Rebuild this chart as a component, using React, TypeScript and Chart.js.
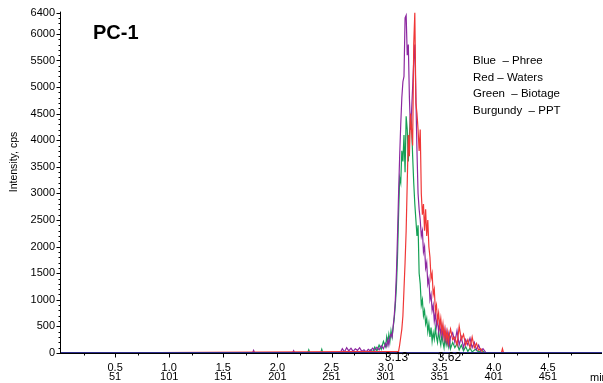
import React, { useEffect, useRef } from 'react';
import { Chart, registerables } from 'chart.js';

Chart.register(...registerables);

const FONT = '"Liberation Sans", Arial, Helvetica, sans-serif';

const chartTitle = 'PC-1';
const yAxisTitle = 'Intensity, cps';
const xUnit = 'min';
const legendLines = ['Blue  \u2013 Phree', 'Red \u2013 Waters', 'Green  \u2013 Biotage', 'Burgundy  \u2013 PPT'];
const peakLabels = ['3.13', '3.62'];
const peakLabelTimes = [3.1, 3.59];

const xTickValues = [0.5, 1.0, 1.5, 2.0, 2.5, 3.0, 3.5, 4.0, 4.5];
const xTickTimes = ['0.5', '1.0', '1.5', '2.0', '2.5', '3.0', '3.5', '4.0', '4.5'];
const xTickScans = ['51', '101', '151', '201', '251', '301', '351', '401', '451'];
const yTickValues = [0, 500, 1000, 1500, 2000, 2500, 3000, 3500, 4000, 4500, 5000, 5500, 6000, 6400];

// Blue - Phree
const blueTimes = [0, 5.0];
const blueValues = [0, 0];

// Red - Waters
const redTimes = [
  0, 3.12,
  3.13, 3.14, 3.15, 3.16, 3.17, 3.18, 3.19,
  3.20, 3.21, 3.22, 3.23, 3.24, 3.25, 3.26, 3.27, 3.28, 3.29,
  3.30, 3.31, 3.32, 3.33, 3.34, 3.35, 3.36, 3.37, 3.38, 3.39,
  3.40, 3.41, 3.42, 3.43, 3.44, 3.45, 3.46, 3.47, 3.48, 3.49,
  3.50, 3.51, 3.52, 3.53, 3.54, 3.55, 3.56, 3.57, 3.58, 3.59,
  3.60,
  3.62, 3.64, 3.66, 3.68, 3.70, 3.72, 3.74, 3.76, 3.78, 3.80, 3.82, 3.84, 3.86, 3.88, 3.90,
  4.07, 4.08, 4.09, 5.0,
];
const redValues = [
  0, 30,
  150, 300, 450, 700, 1200, 1700, 2300,
  3200, 4100, 3700, 4500, 4200, 3900, 5800, 6400, 4700, 4500,
  4200, 3800, 4200, 3000, 2600, 2800, 2300, 2700, 2200, 2500,
  2000, 1800, 1400, 1500, 1100, 1200, 800, 900, 600, 750,
  500, 650, 400, 550, 300, 450, 250, 400, 200, 350,
  450,
  250, 300, 150, 500, 250, 350, 150, 250, 100, 300, 100, 180, 50, 80, 0,
  0, 80, 0, 0,
];

// Green - Biotage
const greenTimes = [
  0, 2.28, 2.29, 2.30, 2.40, 2.41, 2.42,
  2.84, 2.86, 2.88, 2.90, 2.92, 2.94, 2.96, 2.98,
  3.00, 3.01, 3.02, 3.03, 3.04, 3.05, 3.06, 3.07, 3.08, 3.09,
  3.10, 3.11, 3.12, 3.13, 3.14, 3.15, 3.16, 3.17, 3.18, 3.19,
  3.20, 3.21, 3.22, 3.23, 3.24, 3.25, 3.26, 3.27, 3.28, 3.29,
  3.30, 3.31, 3.32, 3.33, 3.34, 3.35, 3.36, 3.37, 3.38, 3.39,
  3.40, 3.41, 3.42, 3.43, 3.44, 3.45, 3.46, 3.47, 3.48, 3.49,
  3.50, 3.51, 3.52, 3.53, 3.54, 3.55, 3.56, 3.57, 3.58, 3.59,
  3.60,
  3.62, 3.64, 3.66, 3.68, 3.70, 3.72, 3.74, 3.76, 3.78, 3.80,
  3.83, 3.86, 3.89, 3.92, 5.0,
];
const greenValues = [
  0, 0, 60, 0, 0, 70, 0,
  0, 60, 20, 110, 40, 150, 70, 220,
  120, 300, 180, 350, 220, 420, 300, 480, 650, 900,
  1250, 1800, 2600, 3300, 3200, 3800, 3600, 4100, 3400, 4450,
  4200, 3600, 4100, 4450, 4300, 3700, 3200, 2800, 2500, 2200,
  2400, 1500, 1300, 900, 1000, 700, 800, 550, 650, 400,
  550, 300, 480, 220, 380, 260, 470, 300, 200, 420,
  250, 150, 350, 200, 100, 300, 150, 250, 120, 300,
  80,
  200, 100, 180, 60, 150, 40, 120, 30, 90, 20,
  70, 20, 50, 0, 0,
];

// Burgundy - PPT
const purpleTimes = [
  0, 1.77, 1.78, 1.79, 2.14, 2.15, 2.16, 2.58,
  2.60, 2.62, 2.64, 2.66, 2.68, 2.70, 2.72, 2.74, 2.76, 2.78,
  2.80, 2.82, 2.84, 2.86, 2.88, 2.90, 2.92, 2.94, 2.96, 2.98,
  3.00, 3.01, 3.02, 3.03, 3.04, 3.05, 3.06, 3.07, 3.08, 3.09,
  3.10, 3.11, 3.12, 3.13, 3.14, 3.15, 3.16, 3.17, 3.18, 3.19,
  3.20, 3.21, 3.22, 3.23, 3.24, 3.25, 3.26, 3.27, 3.28, 3.29,
  3.30, 3.31, 3.32, 3.33, 3.34, 3.35, 3.36, 3.37, 3.38, 3.39,
  3.40, 3.41, 3.42, 3.43, 3.44, 3.45, 3.46, 3.47, 3.48, 3.49,
  3.50, 3.51, 3.52, 3.53, 3.54, 3.55, 3.56, 3.57, 3.58, 3.59,
  3.60,
  3.62, 3.64, 3.66, 3.68, 3.70, 3.72, 3.74, 3.76, 3.78, 3.80, 3.82, 3.84, 3.86, 3.88, 3.90,
  3.93, 5.0,
];
const purpleValues = [
  0, 0, 50, 0, 0, 45, 0, 0,
  80, 20, 100, 40, 90, 30, 80, 50, 100, 30,
  60, 20, 70, 40, 90, 50, 110, 60, 140, 80,
  180, 120, 250, 150, 300, 350, 300, 500, 700, 1000,
  1500, 2200, 3000, 3700, 4300, 4800, 5100, 5200, 6300, 6350,
  5600, 5800, 4800, 4200, 4550, 5000, 5500, 5800, 4800, 3800,
  3000, 2700, 2500, 2200, 2300, 1900, 2000, 1600, 1700, 1300,
  1400, 1000, 1100, 800, 900, 600, 750, 500, 650, 400,
  550, 350, 500, 300, 450, 250, 400, 200, 350, 150,
  300,
  380, 200, 420, 150, 300, 100, 250, 150, 280, 100, 200, 60, 150, 40, 80,
  0, 0,
];

const zip = (t: number[], v: number[]) => t.map((x, i) => ({ x, y: v[i] }));

const decorPlugin = {
  id: 'decor',
  beforeDatasetsDraw(chart: any) {
    const { ctx, chartArea, scales } = chart;
    const { left, right, top, bottom } = chartArea;
    const y = scales.y;
    const x = scales.x;
    ctx.save();
    ctx.strokeStyle = '#000';
    ctx.lineWidth = 1;
    const ax = left - 0.5;
    ctx.beginPath();
    ctx.moveTo(ax, top - 1);
    ctx.lineTo(ax, bottom + 1);
    ctx.stroke();
    for (let v = 0; v <= 6400; v += 100) {
      const py = Math.round(y.getPixelForValue(v)) + 0.5;
      const major = v % 500 === 0 || v === 6400;
      const len = major ? 4 : 2;
      ctx.beginPath();
      ctx.moveTo(ax - len, py);
      ctx.lineTo(ax, py);
      ctx.stroke();
    }
    const by = bottom + 0.5;
    ctx.beginPath();
    ctx.moveTo(left - 1, by);
    ctx.lineTo(right, by);
    ctx.stroke();
    for (let k = 0; k < 10; k++) {
      const t = k * 0.5 + 0.5;
      if (t < 5) {
        const px = Math.round(x.getPixelForValue(t)) + 0.5;
        ctx.beginPath();
        ctx.moveTo(px, by);
        ctx.lineTo(px, by + 4);
        ctx.stroke();
      }
      const tm = k * 0.5 + 0.21;
      if (tm < 5) {
        const px = Math.round(x.getPixelForValue(tm)) + 0.5;
        ctx.beginPath();
        ctx.moveTo(px, by);
        ctx.lineTo(px, by + 2);
        ctx.stroke();
      }
    }
    ctx.restore();
  },
  afterDraw(chart: any) {
    const { ctx, scales } = chart;
    const x = scales.x;
    ctx.save();
    ctx.fillStyle = '#000';
    ctx.textBaseline = 'middle';
    ctx.textAlign = 'left';
    ctx.font = `bold 20px ${FONT}`;
    ctx.fillText(chartTitle, 93, 33);
    ctx.font = `11.5px ${FONT}`;
    legendLines.forEach((s, i) => {
      ctx.fillText(s, 473, 61 + i * 16.6);
    });
    ctx.font = `12px ${FONT}`;
    ctx.textAlign = 'center';
    peakLabels.forEach((s, i) => {
      ctx.fillText(s, x.getPixelForValue(peakLabelTimes[i]), 358);
    });
    ctx.font = `11px ${FONT}`;
    ctx.textAlign = 'left';
    ctx.fillText(xUnit, 590, 378);
    ctx.save();
    ctx.translate(14, 162);
    ctx.rotate(-Math.PI / 2);
    ctx.textAlign = 'center';
    ctx.font = `10.5px ${FONT}`;
    ctx.fillText(yAxisTitle, 0, 0);
    ctx.restore();
    ctx.restore();
  },
};

export default function App() {
  const ref = useRef<HTMLCanvasElement | null>(null);
  useEffect(() => {
    if (!ref.current) return;
    const line = (data: any[], color: string, width: number) => ({
      data,
      borderColor: color,
      backgroundColor: color,
      borderWidth: width,
      pointRadius: 0,
      tension: 0,
      fill: false,
    });
    const chart = new Chart(ref.current, {
      type: 'line',
      data: {
        datasets: [
          line(zip(blueTimes, blueValues), 'rgb(45,45,140)', 2),
          line(zip(redTimes, redValues), 'rgb(240,55,55)', 1.2),
          line(zip(purpleTimes, purpleValues), 'rgb(140,40,160)', 1.2),
          line(zip(greenTimes, greenValues), 'rgb(20,160,85)', 1.2),
        ] as any,
      },
      options: {
        animation: false,
        responsive: false,
        maintainAspectRatio: false,
        layout: { padding: { top: 12, right: 1, left: 0, bottom: 0 } },
        plugins: { legend: { display: false }, tooltip: { enabled: false } },
        scales: {
          x: {
            type: 'linear',
            min: 0,
            max: 5,
            grid: { display: false, drawTicks: false },
            border: { display: false },
            afterBuildTicks: (s: any) => {
              s.ticks = xTickValues.map((v) => ({ value: v }));
            },
            afterFit: (s: any) => {
              s.height = 30;
            },
            ticks: {
              autoSkip: false,
              maxRotation: 0,
              padding: 10,
              color: '#000',
              font: { family: FONT, size: 11, lineHeight: 0.85 },
              callback: (v: any) => {
                const i = xTickValues.indexOf(Number(v));
                return i >= 0 ? [xTickTimes[i], xTickScans[i]] : '';
              },
            },
          },
          y: {
            type: 'linear',
            min: 0,
            max: 6400,
            grid: { display: false, drawTicks: false },
            border: { display: false },
            afterBuildTicks: (s: any) => {
              s.ticks = yTickValues.map((v) => ({ value: v }));
            },
            afterFit: (s: any) => {
              s.width = 61;
            },
            ticks: {
              autoSkip: false,
              padding: 6,
              color: '#000',
              font: { family: FONT, size: 11 },
              callback: (v: any) => String(v),
            },
          },
        },
      },
      plugins: [decorPlugin],
    });
    return () => chart.destroy();
  }, []);
  return (
    <div style={{ position: 'absolute', left: 0, top: 0, width: 603, height: 383, background: '#fff' }}>
      <canvas ref={ref} width={603} height={383} style={{ width: 603, height: 383, display: 'block' }} />
    </div>
  );
}
